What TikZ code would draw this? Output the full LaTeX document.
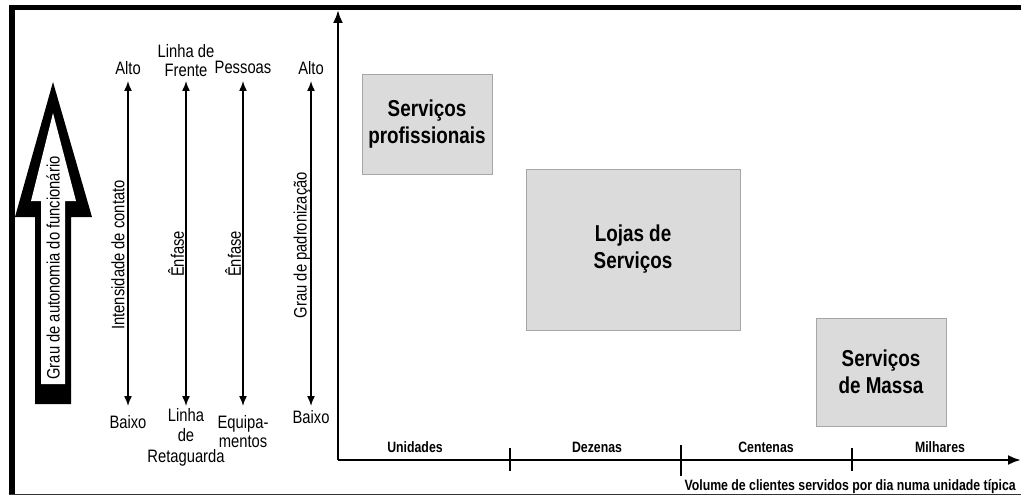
\documentclass[tikz,border=0pt]{standalone}
\usepackage{fontspec}
\setmainfont{Liberation Sans}[FakeStretch=0.82]
\usetikzlibrary{arrows.meta}
\begin{document}
\begin{tikzpicture}[x=1pt,y=-1pt,
  lbl/.style={font=\fontsize{18}{19}\selectfont, align=center, inner sep=0pt},
  rot/.style={font=\fontsize{18}{19}\selectfont, rotate=90, inner sep=0pt},
  boxnode/.style={draw=gray!70, fill=gray!28, line width=1pt, align=center,
    font=\fontsize{23}{27}\selectfont\bfseries, inner sep=0pt},
  scale lbl/.style={font=\fontsize{15}{16}\selectfont\bfseries, inner sep=0pt},
  thinarrow/.style={line width=1.5pt, {Latex[length=10pt,width=8pt]}-{Latex[length=10pt,width=8pt]}},
  axis/.style={line width=2.4pt, -{Latex[length=13pt,width=10pt]}},
  tick/.style={line width=2.4pt}]
\useasboundingbox (0,0) rectangle (1021,495);
% frame
\fill[black] (9,5) rectangle (1021,10.5);
\fill[black] (9,5) rectangle (15,495);
\draw[line width=1pt, black!80] (9,494) -- (1021,494);

% big hollow arrow
\fill[black] (35,404) -- (35,217) -- (15,217) -- (53,82) -- (92,217) -- (71,217) -- (71,404) -- cycle;
\fill[white] (41,384) -- (41,201) -- (31,201) -- (53,113) -- (76,201) -- (65,201) -- (65,384) -- cycle;
\node[rot] (auto) at (53,268) {Grau de autonomia do funcionário};

% arrow 1
\node[lbl] (alto1) at (128,68) {Alto};
\node[lbl] (baixo1) at (128,422) {Baixo};
\coordinate (a1t) at (128,81);
\coordinate (a1b) at (128,406);
\draw[thinarrow] (a1t) -- (a1b);
\node[rot] (int) at (118,255) {Intensidade de contato};

% arrow 2
\node[lbl] (frente) at (186,61) {Linha de\\Frente};
\node[lbl, font=\fontsize{18}{20.5}\selectfont] (retag) at (186,437) {Linha\\de\\Retaguarda};
\coordinate (a2t) at (186,81);
\coordinate (a2b) at (186,406);
\draw[thinarrow] (a2t) -- (a2b);
\node[rot] (enf1) at (176,254) {Ênfase};

% arrow 3
\node[lbl] (pessoas) at (243,67) {Pessoas};
\node[lbl] (equip) at (243,432) {Equipa-\\mentos};
\coordinate (a3t) at (243,81);
\coordinate (a3b) at (243,406);
\draw[thinarrow] (a3t) -- (a3b);
\node[rot] (enf2) at (233,254) {Ênfase};

% arrow 4
\node[lbl] (alto2) at (311,68) {Alto};
\node[lbl] (baixo2) at (311,417) {Baixo};
\coordinate (a4t) at (311,81);
\coordinate (a4b) at (311,406);
\draw[thinarrow] (a4t) -- (a4b);
\node[rot] (pad) at (302,245) {Grau de padronização};

% axes
\coordinate (O) at (338,460);
\coordinate (ytop) at (338,10);
\coordinate (xend) at (1021,460);
\draw[axis] (O) -- (ytop);
\draw[axis] (O) -- (xend);

% ticks
\coordinate (t1a) at (510,448); \coordinate (t1b) at (510,471);
\coordinate (t2a) at (681,445); \coordinate (t2b) at (681,476);
\coordinate (t3a) at (852,448); \coordinate (t3b) at (852,471);
\draw[tick] (t1a) -- (t1b);
\draw[tick] (t2a) -- (t2b);
\draw[tick] (t3a) -- (t3b);

\node[scale lbl] (uni) at (415,447) {Unidades};
\node[scale lbl] (dez) at (597,447) {Dezenas};
\node[scale lbl] (cen) at (766,447) {Centenas};
\node[scale lbl] (mil) at (940,447) {Milhares};
\node[scale lbl, anchor=east] (vol) at (1016,487) {Volume de clientes servidos por dia numa unidade típica};

% boxes
\node[boxnode, minimum width=130pt, minimum height=99pt] (prof) at (427,124.5) {Serviços\\profissionais};
\node[boxnode, minimum width=214pt, minimum height=161pt] (lojas) at (633,249.5) {Lojas de\\Serviços};
\node[boxnode, minimum width=130pt, minimum height=108pt] (massa) at (881,372) {Serviços\\de Massa};
\end{tikzpicture}
\end{document}
